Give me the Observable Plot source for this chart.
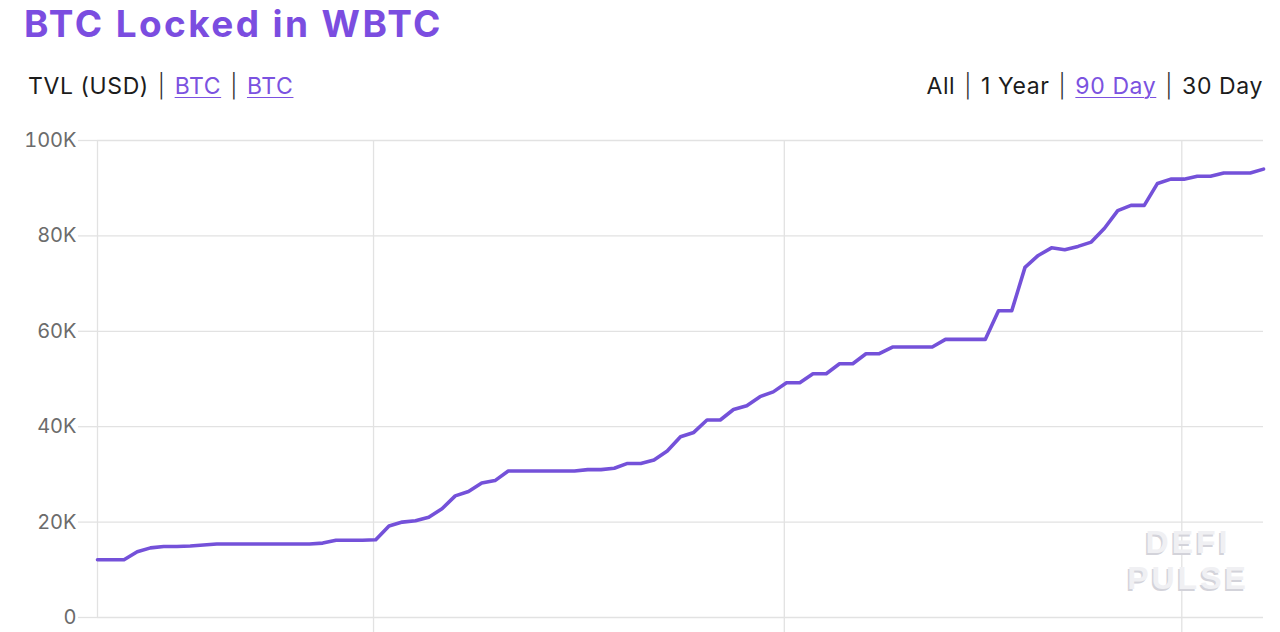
<!DOCTYPE html>
<html>
<head>
<meta charset="utf-8">
<script src="https://cdn.jsdelivr.net/npm/d3@7"></script>
<script src="https://cdn.jsdelivr.net/npm/@observablehq/plot@0.6"></script>
<style>
  html, body { margin: 0; padding: 0; background: #fff; }
  body { width: 1280px; height: 632px; overflow: hidden; position: relative; font-family: Inter, "Open Sans", sans-serif; }
  #title { position: absolute; left: 24px; top: 2px; font-size: 37px; line-height: 44px; font-weight: 700; letter-spacing: 2.4px; color: #7b4de0; white-space: nowrap; }
  .row { position: absolute; top: 72px; font-size: 23px; line-height: 28px; letter-spacing: 0.6px; color: #1c1c1c; white-space: nowrap; }
  #left { left: 28px; }
  #right { right: 17px; }
  .sep { display: inline-block; margin: 0 9px; font-weight: 300; color: #333; }
  .row a { color: #7b52e0; text-decoration: underline; text-underline-offset: 3px; text-decoration-thickness: 1px; }
  #chart { position: absolute; left: 0; top: 120px; }
  .wm { position: absolute; left: 1088px; width: 200px; text-align: center; font-family: "Liberation Sans", Arial, sans-serif; font-size: 32px; line-height: 36px; font-weight: 700; letter-spacing: 3px; color: #f0f0f3; text-shadow: -1.5px 1.5px 0 #d3d3da; }
  #wm1 { top: 524px; }
  #wm2 { top: 560px; }
</style>
</head>
<body>
<div id="title">BTC Locked in WBTC</div>
<div class="row" id="left">TVL (USD)<span class="sep">|</span><a>BTC</a><span class="sep">|</span><a>BTC</a></div>
<div class="row" id="right">All<span class="sep">|</span>1 Year<span class="sep">|</span><a>90 Day</a><span class="sep">|</span>30 Day</div>
<div id="chart"></div>
<div class="wm" id="wm1">DEFI</div>
<div class="wm" id="wm2">PULSE</div>
<script>
// Daily BTC locked in WBTC (90-day view), first day below
const startDate = "2020-07-11T04:00:00Z";
const btcLocked = [
  12100, 12100, 12100, 13800, 14600, 14900, 14900, 15000, 15200, 15400,
  15400, 15400, 15400, 15400, 15400, 15400, 15400, 15600, 16200, 16200,
  16200, 16300, 19200, 20000, 20300, 21000, 22800, 25500, 26400, 28200,
  28700, 30700, 30700, 30700, 30700, 30700, 30700, 31000, 31000, 31300,
  32300, 32300, 33000, 34900, 37900, 38800, 41400, 41400, 43600, 44400,
  46300, 47300, 49200, 49200, 51100, 51100, 53200, 53200, 55300, 55300,
  56700, 56700, 56700, 56700, 58300, 58300, 58300, 58300, 64300, 64300,
  73400, 75900, 77500, 77100, 77800, 78700, 81600, 85300, 86400, 86400,
  91000, 91900, 91900, 92500, 92500, 93200, 93200, 93200, 94000
];
const yTicks = [0, 20000, 40000, 60000, 80000, 100000];
const yTickLabels = ["0", "20K", "40K", "60K", "80K", "100K"];

const start = new Date(startDate);
const dates = btcLocked.map((_, i) => d3.utcDay.offset(start, i));
const data = dates.map((date, i) => ({date, value: btcLocked[i]}));
const monthTicks = d3.utcMonths(dates[0], dates[dates.length - 1]);

const gridColor = "#e2e2e2";
const chart = Plot.plot({
  width: 1280,
  height: 527,
  marginLeft: 97,
  marginRight: 17,
  marginTop: 20,
  marginBottom: 30,
  style: {fontFamily: "Inter, 'Open Sans', sans-serif", background: "transparent", overflow: "visible"},
  x: {type: "utc", domain: [dates[0], dates[dates.length - 1]]},
  y: {domain: [0, 100000]},
  marks: [
    Plot.gridY(yTicks, {stroke: gridColor, strokeOpacity: 1, strokeWidth: 1.3}),
    Plot.gridX(monthTicks, {stroke: gridColor, strokeOpacity: 1, strokeWidth: 1.3}),
    Plot.ruleX([dates[0]], {stroke: gridColor, strokeWidth: 1.3}),
    Plot.axisY(yTicks, {
      tickFormat: d => yTickLabels[yTicks.indexOf(d)],
      tickSize: 19, tickPadding: 2, fontSize: 20,
      fill: "#6b6b6b", stroke: gridColor, strokeWidth: 1.3, label: null
    }),
    Plot.axisX(monthTicks, {tickSize: 20, tickFormat: () => "", stroke: gridColor, strokeWidth: 1.3, label: null}),
    Plot.line(data, {x: "date", y: "value", stroke: "#7451d9", strokeWidth: 3.6, strokeLinejoin: "round"})
  ]
});
document.getElementById("chart").appendChild(chart);
</script>
</body>
</html>
